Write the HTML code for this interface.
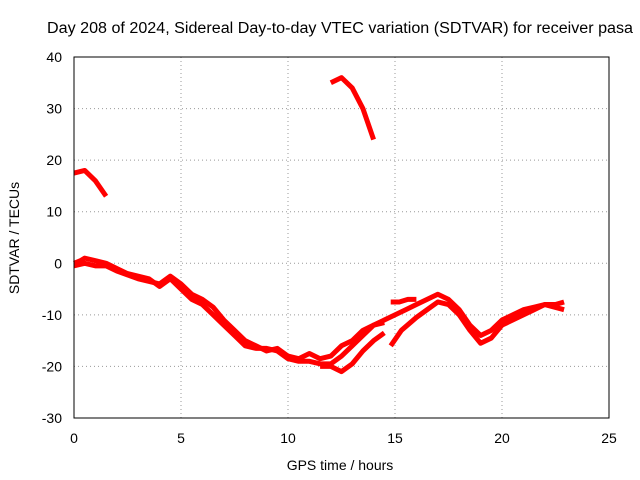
<!DOCTYPE html>
<html><head><meta charset="utf-8"><style>
body{margin:0;background:#fff}
svg{display:block;font-family:"Liberation Sans",sans-serif}
</style></head><body>
<svg id="c" width="640" height="480">
<text x="340" y="33" text-anchor="middle" font-size="15.5" textLength="586" lengthAdjust="spacingAndGlyphs">Day 208 of 2024, Sidereal Day-to-day VTEC variation (SDTVAR) for receiver pasa</text>
<text x="340" y="470" text-anchor="middle" font-size="14">GPS time / hours</text>
<text x="19" y="238" text-anchor="middle" font-size="14" transform="rotate(-90 19 238)">SDTVAR / TECUs</text>
<g id="grid"></g><g id="ticks"></g><g id="series"></g>
<rect x="74" y="57" width="535" height="361" fill="none" stroke="#000"/>
</svg>
<script>
const xTicks=[0,5,10,15,20,25];
const yTicks=[40,30,20,10,0,-10,-20,-30];
const trackMain=[[0,0],[0.3,0.5],[0.5,1],[1,0.5],[1.5,0],[2,-1],[2.5,-2],[3,-2.5],[3.5,-3],[4,-4.5],[4.5,-3],[5,-5],[5.5,-7],[6,-8],[6.5,-10],[7,-12],[7.5,-14],[8,-16],[8.5,-16.5],[9,-16.5],[9.5,-17],[10,-18.5],[10.5,-19],[11,-19],[11.5,-19.5],[12,-19.5],[12.5,-18],[13,-16],[13.5,-14],[14,-12],[14.5,-11],[15,-10],[15.5,-9],[16,-8],[16.5,-7],[17,-6],[17.5,-7],[18,-9],[18.5,-12],[19,-14],[19.5,-13],[20,-11],[20.5,-10],[21,-9],[21.5,-8.5],[22,-8],[22.5,-8],[22.9,-7.5]];
const trackB=[[0,-0.5],[0.5,0],[1,-0.5],[1.5,-0.5],[2,-1.5],[3,-3],[4,-4],[4.5,-2.5],[5,-4],[5.5,-6],[6,-7],[6.5,-8.5],[7,-11],[7.5,-13],[8,-15],[8.5,-16],[9,-17],[9.5,-16.5],[10,-18],[10.5,-18.5],[11,-17.5],[11.5,-18.5],[12,-18],[12.5,-16],[13,-15],[13.5,-13],[14,-12],[14.5,-11.5]];
const trackC=[[11.5,-20],[12,-20],[12.5,-21],[13,-19.5],[13.5,-17],[14,-15],[14.5,-13.5]];
const trackD=[[14.8,-16],[15.3,-13],[16,-10.5],[16.5,-9],[17,-7.5],[17.5,-8],[18,-10],[18.5,-13],[19,-15.5],[19.5,-14.5],[20,-12],[20.5,-11],[21,-10],[21.5,-9],[22,-8],[22.9,-9]];
const trackE=[[14.8,-7.5],[15.2,-7.5],[15.6,-7],[16,-7]];
const trackF=[[0,17.5],[0.5,18],[1,16],[1.5,13]];
const trackG=[[12,35],[12.5,36],[13,34],[13.5,30],[14,24]];
const tracks=[trackMain,trackB,trackC,trackD,trackE,trackF,trackG];
const X=v=>74+v*535/25, Y=v=>418-(v+30)*361/70;
const NS='http://www.w3.org/2000/svg';
const g=document.getElementById('grid'),t=document.getElementById('ticks'),s=document.getElementById('series');
function mk(tag,a,p){const e=document.createElementNS(NS,tag);for(const k in a)e.setAttribute(k,a[k]);p.appendChild(e);return e;}
xTicks.forEach(v=>{
 if(v>0&&v<25){const l=mk('line',{x1:X(v),x2:X(v),y1:57,y2:418,stroke:'#999','stroke-dasharray':'1,3'},g);
 
 }
 const tx=mk('text',{x:X(v),y:443,'text-anchor':'middle','font-size':14},t);tx.textContent=v;
 
 
});
yTicks.forEach(v=>{
 if(v<40&&v>-30){const l=mk('line',{x1:74,x2:609,y1:Y(v),y2:Y(v),stroke:'#999','stroke-dasharray':'1,3'},g);
 
 }
 const tx=mk('text',{x:62,y:Y(v)+5,'text-anchor':'end','font-size':14},t);tx.textContent=v;
 
 
});
tracks.forEach(tr=>{
 const p=mk('polyline',{points:tr.map(d=>X(d[0])+','+Y(d[1])).join(' '),fill:'none',stroke:'#f00','stroke-width':5,'stroke-linejoin':'round'},s);
 
 
});
</script>
</body></html>
